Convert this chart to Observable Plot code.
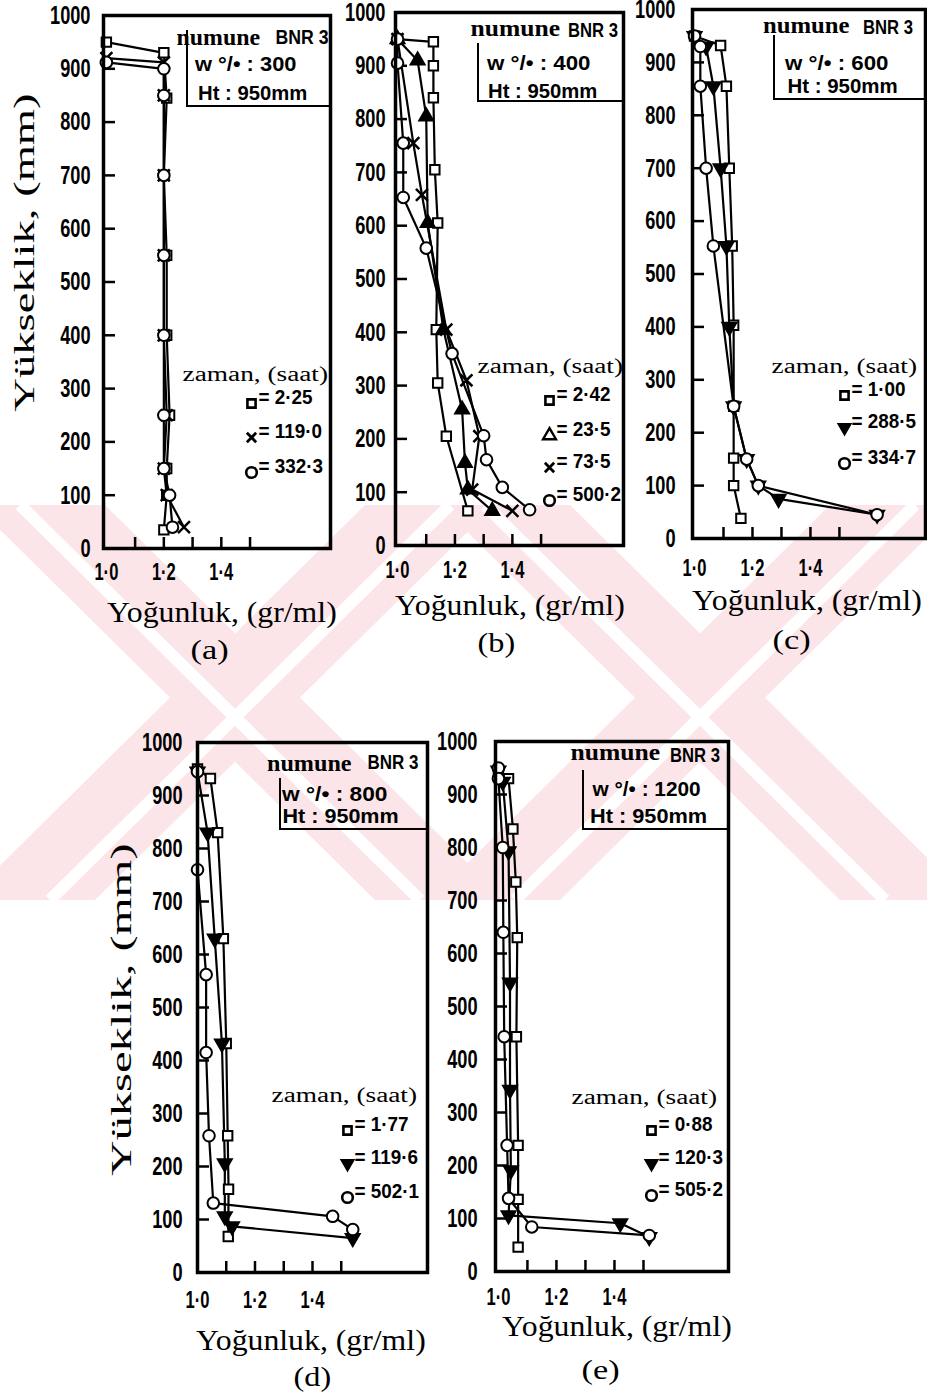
<!DOCTYPE html>
<html><head><meta charset="utf-8">
<script src="https://cdn.jsdelivr.net/npm/d3@7"></script>
<script src="https://cdn.jsdelivr.net/npm/@observablehq/plot@0.6"></script>
<style>
html,body{margin:0;padding:0;background:#fff;}
#page{position:relative;width:927px;height:1396px;overflow:hidden;background:#fff;}
#page > div{position:absolute;}
#page svg{max-width:none !important;}
</style></head>
<body><div id="page"></div>
<script>
// ---------------- data ----------------
const sampleName = "BNR 3";
const sampleHeight = 950;
const moistures = [300, 400, 600, 800, 1200];
const panelLetters = ["(a)", "(b)", "(c)", "(d)", "(e)"];
const yTickValues = [0, 100, 200, 300, 400, 500, 600, 700, 800, 900, 1000];
const yInnerTicks = [100, 200, 300, 400, 500, 600, 700, 800, 900];
const xTickLabels = [1.0, 1.2, 1.4];
const xInnerTicks = [1.1, 1.2, 1.3, 1.4, 1.5];

// (a) w% 300
const aTimes = ["2·25", "119·0", "332·3"];
const aSquareDensity = [1.00, 1.20, 1.21, 1.20, 1.21, 1.21, 1.22, 1.21, 1.21, 1.20];
const aSquareHeight  = [950, 930, 845, 700, 550, 400, 250, 150, 100, 35];
const aCrossDensity  = [1.00, 1.20, 1.20, 1.20, 1.20, 1.20, 1.21, 1.20, 1.21, 1.27];
const aCrossHeight   = [920, 912, 850, 700, 550, 400, 250, 150, 100, 40];
const aCircleDensity = [1.00, 1.20, 1.20, 1.20, 1.20, 1.20, 1.20, 1.20, 1.22, 1.23];
const aCircleHeight  = [912, 900, 850, 700, 550, 400, 250, 150, 100, 40];

// (b) w% 400
const bTimes = ["2·42", "23·5", "73·5", "500·2"];
const bSquareDensity   = [1.00, 1.125, 1.125, 1.125, 1.13, 1.14, 1.135, 1.14, 1.17, 1.245];
const bSquareHeight    = [950, 945, 900, 840, 705, 605, 405, 305, 205, 65];
const bTriangleDensity = [1.00, 1.07, 1.10, 1.105, 1.16, 1.225, 1.235, 1.245, 1.33];
const bTriangleHeight  = [950, 910, 805, 605, 405, 255, 155, 105, 65];
const bCrossDensity    = [1.00, 1.055, 1.085, 1.17, 1.24, 1.285, 1.26, 1.40];
const bCrossHeight     = [950, 755, 658, 405, 310, 205, 105, 65];
const bCircleDensity   = [1.00, 1.00, 1.02, 1.02, 1.10, 1.19, 1.30, 1.31, 1.365, 1.46];
const bCircleHeight    = [950, 905, 755, 653, 558, 360, 206, 161, 109, 67];

// (c) w% 600
const cTimes = ["1·00", "288·5", "334·7"];
const cSquareDensity   = [1.00, 1.09, 1.11, 1.12, 1.13, 1.135, 1.135, 1.135, 1.135, 1.16];
const cSquareHeight    = [950, 932, 855, 700, 553, 403, 250, 152, 100, 38];
const cTriangleDensity = [1.00, 1.04, 1.065, 1.09, 1.11, 1.12, 1.135, 1.18, 1.22, 1.29, 1.63];
const cTriangleHeight  = [950, 930, 855, 700, 553, 400, 250, 150, 100, 75, 45];
const cCircleDensity   = [1.00, 1.02, 1.02, 1.04, 1.065, 1.135, 1.18, 1.22, 1.63];
const cCircleHeight    = [950, 930, 855, 700, 553, 250, 150, 100, 45];

// (d) w% 800
const dTimes = ["1·77", "119·6", "502·1"];
const dSquareDensity   = [1.00, 1.045, 1.07, 1.09, 1.10, 1.105, 1.108, 1.107];
const dSquareHeight    = [950, 932, 830, 630, 432, 258, 157, 68];
const dTriangleDensity = [1.00, 1.035, 1.06, 1.085, 1.095, 1.095, 1.12, 1.54];
const dTriangleHeight  = [945, 830, 630, 432, 206, 106, 87, 65];
const dCircleDensity   = [1.00, 1.00, 1.03, 1.03, 1.04, 1.055, 1.47, 1.54];
const dCircleHeight    = [945, 760, 562, 415, 258, 131, 106, 81];

// (e) w% 1200
const eTimes = ["0·88", "120·3", "505·2"];
const eSquareDensity   = [1.00, 1.035, 1.05, 1.06, 1.065, 1.062, 1.068, 1.068, 1.068];
const eSquareHeight    = [945, 930, 835, 735, 630, 443, 238, 136, 46];
const eTriangleDensity = [1.00, 1.015, 1.035, 1.04, 1.04, 1.043, 1.035, 1.42, 1.52];
const eTriangleHeight  = [945, 924, 793, 545, 343, 191, 106, 91, 65];
const eCircleDensity   = [1.00, 1.00, 1.015, 1.017, 1.02, 1.03, 1.035, 1.115, 1.52];
const eCircleHeight    = [950, 930, 800, 640, 443, 238, 138, 84, 68];

// ---------------- styles ----------------
const SANS = "'Liberation Sans',Arial,sans-serif";
const SERIF = "'Liberation Serif','Times New Roman',serif";
const page = document.getElementById("page");

const STY = {
  square:   {symbol: "square", r: 5.3, fill: "white", strokeWidth: 2},
  circle:   {symbol: "circle", r: 5.8, fill: "white", strokeWidth: 2},
  cross:    {symbol: "times", r: 5.5, fill: "none", strokeWidth: 2.5},
  triangle: {symbol: "triangle", r: 5.5, fill: "black", strokeWidth: 1.5},
  triDown:  {symbol: "triangle", r: 5.5, fill: "black", strokeWidth: 1.5, rotate: 180}
};
const LEG = {
  square:   {symbol: "square", r: 4.6, fill: "white", strokeWidth: 2.6},
  circle:   {symbol: "circle", r: 5.3, fill: "white", strokeWidth: 2.6},
  cross:    {symbol: "times", r: 4.3, fill: "none", strokeWidth: 2.8},
  triangle: {symbol: "triangle", r: 4.8, fill: "white", strokeWidth: 2.4},
  triDown:  {symbol: "triangle", r: 4.8, fill: "black", strokeWidth: 1.5, rotate: 180}
};

function rows(xs, ys) { return xs.map((x, i) => ({x, y: ys[i]})); }

// ---------------- watermark (decorative background) ----------------
(function watermark() {
  const svg = d3.create("svg").attr("width", 927).attr("height", 1396)
    .style("position", "absolute").style("left", 0).style("top", 0);
  const g = svg.append("g").attr("fill", "#fce5e8");
  const arms = [];
  for (const cx of [235, 700]) {
    arms.push([[cx - 260, 505], [cx - 130, 505], [cx + 270, 900], [cx + 140, 900]]);
    arms.push([[cx + 130, 505], [cx + 260, 505], [cx - 140, 900], [cx - 270, 900]]);
  }
  for (const a of arms) g.append("polygon").attr("points", a.map(p => p.join(",")).join(" "));
  const w = svg.append("g").attr("stroke", "#fff").attr("stroke-width", 12);
  for (const cx of [235, 700]) {
    w.append("line").attr("x1", cx - 215).attr("y1", 505).attr("x2", cx + 185).attr("y2", 900);
    w.append("line").attr("x1", cx + 215).attr("y1", 505).attr("x2", cx - 185).attr("y2", 900);
  }
  const holder = document.createElement("div");
  holder.style.cssText = "left:0;top:0;width:927px;height:1396px;";
  holder.appendChild(svg.node());
  page.appendChild(holder);
})();

// ---------------- text helper ----------------
function addText(str, o) {
  const el = document.createElement("div");
  el.textContent = str;
  el.style.whiteSpace = "nowrap";
  el.style.lineHeight = "1";
  el.style.fontFamily = o.family;
  el.style.fontSize = o.size + "px";
  el.style.fontWeight = o.weight || "normal";
  el.style.left = "0px"; el.style.top = "0px";
  page.appendChild(el);
  const w = el.offsetWidth, h = el.offsetHeight;
  const sx = o.width ? o.width / w : 1;
  const vis = w * sx;
  const cx = o.anchor === "start" ? o.x + vis / 2 : o.anchor === "end" ? o.x - vis / 2 : o.x;
  el.style.left = (cx - w / 2) + "px";
  el.style.top = (o.y - h / 2) + "px";
  el.style.transform = `rotate(${o.rotate || 0}deg) scaleX(${sx})`;
  return el;
}

// squeeze the library's text horizontally around its anchor (condensed look)
function condense(svg, selector, k) {
  svg.querySelectorAll(selector).forEach(t => {
    const tr = t.getAttribute("transform");
    if (tr) t.setAttribute("transform", tr + ` scale(${k},1)`);
    else {
      const x = +t.getAttribute("x") || 0, y = +t.getAttribute("y") || 0;
      t.setAttribute("transform", `translate(${x},${y}) scale(${k},1) translate(${-x},${-y})`);
    }
  });
}

// ---------------- panels ----------------
const panels = [
  {frame: [103, 15, 330, 548], xDomain: [0.99, 1.78], yPad: 13, xPad: 15,
   series: [[aSquareDensity, aSquareHeight, "square"], [aCrossDensity, aCrossHeight, "cross"], [aCircleDensity, aCircleHeight, "circle"]],
   times: aTimes, syms: ["square", "cross", "circle"], legDx: -79, legDy: [-145, -111, -76],
   zaman: {right: 328, y: 374}, box: {left: 186, top: 30, bottom: 107},
   numune: {x: 176, y: 37, w: 84}, bnr: {x: 275, y: 37, w: 53}, wl: {x: 195, y: 63, w: 101}, ht: {x: 198, y: 92, w: 109},
   xTitle: {x: 222, y: 612}, caption: {x: 209, y: 650}},
  {frame: [395, 12, 623, 545], xDomain: [0.993, 1.787], yPad: 10, xPad: 16,
   series: [[bSquareDensity, bSquareHeight, "square"], [bTriangleDensity, bTriangleHeight, "triangle"], [bCrossDensity, bCrossHeight, "cross"], [bCircleDensity, bCircleHeight, "circle"]],
   times: bTimes, syms: ["square", "triangle", "cross", "circle"], legDx: -74, legDy: [-145, -110, -78, -45],
   zaman: {right: 623, y: 366}, box: {left: 477, top: 43, bottom: 102},
   numune: {x: 470, y: 28, w: 90}, bnr: {x: 568, y: 30, w: 50}, wl: {x: 487, y: 62, w: 103}, ht: {x: 488, y: 90, w: 109},
   xTitle: {x: 510, y: 605}, caption: {x: 496, y: 643}},
  {frame: [692, 9, 925, 538], xDomain: [0.993, 1.797], yPad: 17, xPad: 21,
   series: [[cSquareDensity, cSquareHeight, "square"], [cTriangleDensity, cTriangleHeight, "triDown"], [cCircleDensity, cCircleHeight, "circle"]],
   times: cTimes, syms: ["square", "triDown", "circle"], legDx: -81, legDy: [-143, -111, -75],
   zaman: {right: 917, y: 366}, box: {left: 773, top: 35, bottom: 100},
   numune: {x: 763, y: 25, w: 87}, bnr: {x: 863, y: 27, w: 50}, wl: {x: 785, y: 62, w: 103}, ht: {x: 787, y: 85, w: 110},
   xTitle: {x: 807, y: 600}, caption: {x: 791, y: 640}},
  {frame: [197, 742, 427, 1272], xDomain: [1.0, 1.80], yPad: 15, xPad: 19,
   series: [[dSquareDensity, dSquareHeight, "square"], [dTriangleDensity, dTriangleHeight, "triDown"], [dCircleDensity, dCircleHeight, "circle"]],
   times: dTimes, syms: ["square", "triDown", "circle"], legDx: -80, legDy: [-142, -109, -75],
   zaman: {right: 417, y: 1095}, box: {left: 279, top: 778, bottom: 830},
   numune: {x: 267, y: 763, w: 85}, bnr: {x: 367, y: 762, w: 51}, wl: {x: 282, y: 793, w: 105}, ht: {x: 282, y: 815, w: 116},
   xTitle: {x: 311, y: 1340}, caption: {x: 312, y: 1377}},
  {frame: [495, 741, 728, 1271], xDomain: [0.99, 1.793], yPad: 18, xPad: 17,
   series: [[eSquareDensity, eSquareHeight, "square"], [eTriangleDensity, eTriangleHeight, "triDown"], [eCircleDensity, eCircleHeight, "circle"]],
   times: eTimes, syms: ["square", "triDown", "circle"], legDx: -77, legDy: [-141, -108, -76],
   zaman: {right: 717, y: 1097}, box: {left: 582, top: 770, bottom: 830},
   numune: {x: 570, y: 752, w: 90}, bnr: {x: 670, y: 755, w: 50}, wl: {x: 592, y: 788, w: 108}, ht: {x: 590, y: 815, w: 117},
   xTitle: {x: 617, y: 1326}, caption: {x: 600, y: 1370}}
];

const mL = 70, mT = 8, mR = 8, mB = 50;

panels.forEach((p, i) => {
  const [L, T, R, B] = p.frame;
  const marks = [
    Plot.axisY({ticks: yInnerTicks, tickSize: 12, dx: 12, fill: "none", strokeWidth: 2.5, label: null}),
    Plot.axisY({ticks: yTickValues, tickSize: 0, tickPadding: p.yPad, fontSize: 26, label: null, tickFormat: d => String(d)}),
    Plot.axisX({ticks: xInnerTicks, tickSize: 11, dy: -11, fill: "none", strokeWidth: 2.5, label: null}),
    Plot.axisX({ticks: xTickLabels, tickSize: 0, tickPadding: p.xPad, fontSize: 23, label: null, tickFormat: d => d.toFixed(1).replace(".", "·")})
  ];
  for (const [xs, ys] of p.series) {
    marks.push(Plot.line(rows(xs, ys), {x: "x", y: "y", stroke: "black", strokeWidth: 2.2}));
  }
  for (const [xs, ys, kind] of p.series) {
    marks.push(Plot.dot(rows(xs, ys), {x: "x", y: "y", stroke: "black", ...STY[kind]}));
  }
  p.syms.forEach((s, k) => {
    marks.push(Plot.dot([0], {frameAnchor: "bottom-right", dx: p.legDx, dy: p.legDy[k], stroke: "black", ...LEG[s]}));
    marks.push(Plot.text(["= " + p.times[k]], {frameAnchor: "bottom-right", dx: p.legDx + 7, dy: p.legDy[k], text: d => d, textAnchor: "start", fontSize: 21, fontWeight: "bold"}));
  });
  marks.push(Plot.frame({strokeWidth: 3.5}));

  const W = (R - L) + mL + mR, H = (B - T) + mT + mB;
  const chart = Plot.plot({
    width: W,
    height: H,
    marginLeft: mL, marginRight: mR, marginTop: mT, marginBottom: mB,
    x: {domain: p.xDomain},
    y: {domain: [0, 1000]},
    style: {background: "transparent", fontFamily: SANS, fontWeight: "bold", fontSize: "22px", color: "black", overflow: "visible", maxWidth: "none", width: W + "px", height: H + "px"},
    marks
  });
  condense(chart, 'g[aria-label="y-axis tick label"] text', 0.7);
  condense(chart, 'g[aria-label="x-axis tick label"] text', 0.72);
  condense(chart, 'g[aria-label="text"] text', 0.9);
  const holder = document.createElement("div");
  holder.style.left = (L - mL) + "px";
  holder.style.top = (T - mT) + "px";
  holder.style.width = W + "px";
  holder.style.height = H + "px";
  holder.appendChild(chart);
  page.appendChild(holder);

  // annotation box
  const bx = document.createElement("div");
  bx.style.left = p.box.left + "px";
  bx.style.top = p.box.top + "px";
  bx.style.width = (R - p.box.left) + "px";
  bx.style.height = (p.box.bottom - p.box.top) + "px";
  bx.style.borderLeft = "2.5px solid black";
  bx.style.borderBottom = "2.5px solid black";
  bx.style.boxSizing = "border-box";
  page.appendChild(bx);
  addText("numune", {x: p.numune.x, y: p.numune.y, anchor: "start", size: 23, family: SERIF, weight: "bold", width: p.numune.w});
  addText(sampleName, {x: p.bnr.x, y: p.bnr.y, anchor: "start", size: 20, family: SANS, weight: "bold", width: p.bnr.w});
  addText("w °/• : " + moistures[i], {x: p.wl.x, y: p.wl.y, anchor: "start", size: 21, family: SANS, weight: "bold", width: p.wl.w});
  addText("Ht : " + sampleHeight + "mm", {x: p.ht.x, y: p.ht.y, anchor: "start", size: 21, family: SANS, weight: "bold", width: p.ht.w});

  addText("zaman, (saat)", {x: p.zaman.right, y: p.zaman.y, anchor: "end", size: 20, family: SERIF, width: 146});
  addText("Yoğunluk, (gr/ml)", {x: p.xTitle.x, y: p.xTitle.y, size: 29, family: SERIF, width: 230});
  addText(panelLetters[i], {x: p.caption.x, y: p.caption.y, size: 28, family: SERIF, width: 38});
});

addText("Yükseklik, (mm)", {x: 24, y: 252, size: 29, family: SERIF, width: 318, rotate: -90});
addText("Yükseklik, (mm)", {x: 121, y: 1009, size: 29, family: SERIF, width: 332, rotate: -90});
</script>
</body></html>
